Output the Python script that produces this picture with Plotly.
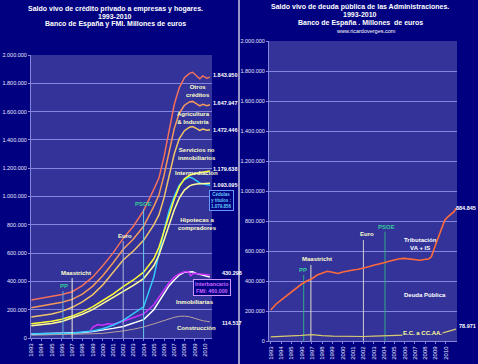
import plotly.graph_objects as go

W, H = 478, 364
NAVY = "#000080"
PLOT = "#333399"
GRID = "#8585DD"
FONT = "Liberation Sans, Arial, sans-serif"

# ---------------- shared axis labels ----------------
years = list(range(1993, 2011))
year_labels = [str(y) for y in years]
ytick_vals = [0, 200000, 400000, 600000, 800000, 1000000, 1200000, 1400000, 1600000, 1800000, 2000000]
ytick_text = ["0", "200.000", "400.000", "600.000", "800.000", "1.000.000", "1.200.000",
              "1.400.000", "1.600.000", "1.800.000", "2.000.000"]

# ---------------- left panel: private credit (millones de euros) ----------------
xl = [1993, 1994, 1995, 1996, 1997, 1998, 1999, 2000, 2001, 2002, 2003, 2004, 2005, 2005.5,
      2006, 2006.5, 2007, 2007.5, 2008, 2008.5, 2008.8, 2009.2, 2009.5, 2009.8, 2010.2, 2010.5]
total_credito = [268000, 280000, 292000, 308000, 327000, 370000, 430000, 510000, 600000, 704000,
                 790000, 900000, 1050000, 1130000, 1280000, 1470000, 1650000, 1770000, 1840000,
                 1870000, 1878000, 1852000, 1832000, 1852000, 1836000, 1843950]
sin_otros = [214000, 225000, 237000, 252000, 273000, 310000, 365000, 440000, 530000, 627000,
             700000, 790000, 930000, 1010000, 1150000, 1320000, 1480000, 1590000, 1645000,
             1668000, 1672000, 1655000, 1640000, 1652000, 1642000, 1647947]
sin_agri = [148000, 158000, 170000, 188000, 217000, 255000, 305000, 375000, 460000, 551000,
            615000, 690000, 800000, 870000, 990000, 1150000, 1300000, 1410000, 1465000,
            1490000, 1494000, 1480000, 1467000, 1476000, 1468000, 1472446]
intermediacion = [100000, 108000, 118000, 133000, 155000, 185000, 220000, 265000, 310000, 363000,
                  410000, 465000, 560000, 640000, 750000, 870000, 980000, 1070000, 1125000,
                  1150000, 1158000, 1165000, 1168000, 1172000, 1176000, 1179638]
hipotecas = [87000, 94000, 103000, 117000, 140000, 168000, 200000, 242000, 283000, 330000,
             372000, 420000, 510000, 585000, 690000, 800000, 905000, 990000, 1045000,
             1075000, 1083000, 1088000, 1090000, 1092000, 1092000, 1093095]
cedulas = [30000, 30000, 31000, 33000, 36000, 41000, 50000, 65000, 90000, 125000,
           170000, 220000, 430000, 600000, 760000, 900000, 1000000, 1080000, 1120000,
           1138000, 1130000, 1110000, 1095000, 1090000, 1085000, 1079856]
inmobiliarias = [28000, 29000, 30000, 31000, 33000, 38000, 45000, 55000, 68000, 82000,
                 105000, 130000, 200000, 260000, 320000, 370000, 410000, 445000, 465000,
                 470000, 468000, 455000, 448000, 440000, 436000, 430298]
construccion = [20000, 21000, 22000, 23000, 25000, 27000, 30000, 33000, 40000, 50000,
                62000, 78000, 100000, 112000, 125000, 137000, 146000, 153000, 155000,
                150000, 145000, 135000, 128000, 122000, 118000, 114517]
xm = [1998.7, 1999, 1999.5, 2000, 2000.5, 2001, 2002, 2003, 2004, 2005, 2005.5, 2006, 2006.5,
      2007, 2007.5, 2008, 2008.4, 2008.6, 2008.9, 2009.2, 2009.5, 2010, 2010.5]
interbancario = [40000, 75000, 95000, 90000, 100000, 98000, 118000, 145000, 170000, 235000,
                 290000, 340000, 390000, 430000, 455000, 468000, 470000, 440000, 458000,
                 456000, 452000, 448000, 445000]

left_series = [
    (construccion, xl, "#B8A0A0", 1.0),
    (inmobiliarias, xl, "#FFFFFF", 1.5),
    (interbancario, xm, "#CC33FF", 1.5),
    (cedulas, xl, "#33CCFF", 1.5),
    (hipotecas, xl, "#FFFF99", 1.5),
    (intermediacion, xl, "#FFFF33", 1.5),
    (sin_agri, xl, "#F2C46A", 1.5),
    (sin_otros, xl, "#F59A5A", 1.5),
    (total_credito, xl, "#F2705C", 1.5),
]

# events
event_names = ["PP", "Maastricht", "Euro", "PSOE"]
event_years_l = [1996.1, 1997.0, 2002.0, 2004.0]
event_top_l = [332000, 424000, 686000, 912000]
event_years_r = [1996.2, 1996.9, 2002.0, 2004.1]
event_top_r = [440000, 507000, 673000, 729000]

# ---------------- right panel: public debt ----------------
xr = [1993, 1993.5, 1994, 1994.5, 1995, 1995.5, 1996, 1996.5, 1997, 1997.5, 1998, 1998.5, 1999,
      1999.5, 2000, 2000.5, 2001, 2001.5, 2002, 2002.5, 2003, 2003.5, 2004, 2004.5, 2005, 2005.5,
      2006, 2006.5, 2007, 2007.5, 2008, 2008.3, 2008.6, 2008.8, 2009, 2009.3, 2009.6, 2009.9,
      2010.2, 2010.5, 2010.8, 2011.0]
deuda_publica = [207000, 245000, 273000, 300000, 322000, 352000, 380000, 400000, 415000, 440000,
                 455000, 465000, 458000, 450000, 460000, 468000, 473000, 478000, 485000, 495000,
                 505000, 512000, 522000, 532000, 542000, 548000, 551000, 546000, 540000, 538000,
                 545000, 545000, 562000, 595000, 640000, 695000, 750000, 805000, 828000, 842000,
                 862000, 884845]
xe = [1993, 1994, 1995, 1996, 1997, 1997.5, 1998, 1999, 2000, 2001, 2002, 2003, 2004, 2005,
      2006, 2007, 2008, 2009, 2009.8, 2010.4, 2011.0]
ec_ccaa = [28000, 30000, 33000, 38000, 43000, 42000, 36000, 33000, 31000, 30000, 30000, 32000,
           34000, 35000, 36000, 37000, 40000, 46000, 56000, 70000, 78971]


def fmt(v):
    return f"{v:,.0f}".replace(",", ".")


fig = go.Figure()

for vals, xs, col, lw in left_series:
    fig.add_trace(go.Scatter(x=xs, y=vals, mode="lines", line=dict(color=col, width=lw),
                             xaxis="x", yaxis="y", hoverinfo="skip"))

ev_col_l = ["#66AADD", "#EEEEDD", "#AAB8DD", "#66CCEE"]
ev_col_r = ["#33AA88", "#DDDDCC", "#CCCCCC", "#33AA88"]
for i in range(4):
    fig.add_trace(go.Scatter(x=[event_years_l[i]] * 2, y=[0, event_top_l[i]], mode="lines",
                             line=dict(color=ev_col_l[i], width=1), xaxis="x", yaxis="y",
                             hoverinfo="skip"))
    fig.add_trace(go.Scatter(x=[event_years_r[i]] * 2, y=[0, event_top_r[i]], mode="lines",
                             line=dict(color=ev_col_r[i], width=1), xaxis="x2", yaxis="y2",
                             hoverinfo="skip"))

fig.add_trace(go.Scatter(x=xe, y=ec_ccaa, mode="lines", line=dict(color="#D8C870", width=1.2),
                         xaxis="x2", yaxis="y2", hoverinfo="skip"))
fig.add_trace(go.Scatter(x=xr, y=deuda_publica, mode="lines", line=dict(color="#FF6A3A", width=1.6),
                         xaxis="x2", yaxis="y2", hoverinfo="skip"))


def P(x):
    return x / W


def Q(y):
    return 1 - y / H


anns = []


def ann(x, y, text, color, size=6, bold=True, xanchor="center", yanchor="middle", **kw):
    anns.append(dict(xref="paper", yref="paper", x=P(x), y=Q(y),
                     text=f"<b>{text}</b>" if bold else text, showarrow=False,
                     font=dict(family=FONT, size=size, color=color),
                     xanchor=xanchor, yanchor=yanchor, **kw))


# titles
ann(115, 9, "Saldo vivo de crédito privado a empresas y hogares.", "#FFFFFF", 7)
ann(115, 16.7, "1993-2010", "#FFFFFF", 7)
ann(115, 24.3, "Banco de España y FMI. Millones de euros", "#FFFFFF", 7)
ann(360, 7.3, "Saldo vivo de deuda pública de las Administraciones.", "#FFFFFF", 7)
ann(360, 15, "1993-2010", "#FFFFFF", 7)
ann(360, 22.7, "Banco de España . Millones  de euros", "#FFFFFF", 7)
ann(366, 30.7, "www.ricardoverges.com", "#FFFFFF", 5.5, bold=False)

# event labels
ev_txt_col = ["#33CC99", "#FFFFCC", "#FFFFCC", "#33CC99"]
ev_lab_l = [(64, 286), (76, 273), (125, 236), (143, 204)]
ev_lab_r = [(303, 270), (317, 259), (367, 234), (386, 227)]
for i in range(4):
    ann(*ev_lab_l[i], event_names[i], ev_txt_col[i], 6)
    ann(*ev_lab_r[i], event_names[i], ev_txt_col[i], 6)

# left value labels (text from data)
lab_series = [(total_credito, 2), (sin_otros, 2), (sin_agri, 0), (intermediacion, 2),
              (hipotecas, -2), (inmobiliarias, 4), (construccion, -1)]
lab_x = [211, 211, 211, 211, 211, 220, 220]
for (vals, ys), lx in zip(lab_series, lab_x):
    anns.append(dict(xref="paper", yref="y", x=P(lx), y=vals[-1], yshift=ys,
                     text=f"<b>{fmt(vals[-1])}</b>", showarrow=False, xanchor="left",
                     yanchor="middle", font=dict(family=FONT, size=5.5, color="#FFFFFF")))

LY = "#FFFFCC"
ann(198, 91, "Otros<br>créditos", LY, 6)
ann(193, 118.5, "Agricultura<br>& Industria", LY, 6)
ann(197, 153.5, "Servicios no<br>inmobiliarios", LY, 6)
ann(196, 173, "Intermediación", LY, 6)
ann(197, 223.5, "Hipotecas a<br>compradores", LY, 6)
ann(195, 302, "Inmobiliarias", LY, 6)
ann(196, 328, "Construcción", LY, 6)
ann(221, 200.5, f"Cédulas<br>y títulos :<br>{fmt(cedulas[-1])}", "#66CCFF", 4.5,
    bgcolor=NAVY, bordercolor="#6699FF", borderwidth=1, borderpad=1)
ann(211.6, 287.7, "Interbancario<br>FMI: 460.000", "#CC66FF", 5.3,
    bgcolor=NAVY, bordercolor="#CC99FF", borderwidth=1, borderpad=1)

# right labels
anns.append(dict(xref="paper", yref="y2", x=P(477.5), y=deuda_publica[-1],
                 text=f"<b>{fmt(deuda_publica[-1])}</b>", showarrow=False, xanchor="right",
                 yanchor="middle", font=dict(family=FONT, size=5.5, color="#FFFFFF")))
anns.append(dict(xref="paper", yref="y2", x=P(477.5), y=ec_ccaa[-1], yshift=3,
                 text=f"<b>{fmt(ec_ccaa[-1])}</b>", showarrow=False, xanchor="right",
                 yanchor="middle", font=dict(family=FONT, size=5.5, color="#FFFFFF")))
ann(420, 244.5, "Tributación<br>VA + IS", "#FFFFFF", 6)
ann(425, 295, "Deuda Pública", "#FFFFFF", 6)
ann(422, 333, "E.C. a CC.AA.", "#FFFF99", 6, bgcolor=PLOT, borderpad=0)

axis_common = dict(showline=True, linecolor=GRID, linewidth=1, ticks="outside", ticklen=2,
                   tickcolor=GRID, zeroline=False, automargin=False)
xcommon = dict(tickvals=years, ticktext=year_labels, tickangle=-90, showgrid=False,
               tickfont=dict(family=FONT, size=6, color="#E8E8FF"), **axis_common)
ycommon = dict(range=[0, 2000000], tickvals=ytick_vals, ticktext=ytick_text, showgrid=True,
               gridcolor=GRID, gridwidth=1,
               tickfont=dict(family=FONT, size=5.5, color="#E8E8FF"), **axis_common)

fig.update_layout(
    width=W, height=H, margin=dict(l=0, r=0, t=0, b=0, autoexpand=False),
    paper_bgcolor=NAVY, plot_bgcolor=PLOT, showlegend=False,
    xaxis=dict(domain=[P(31), P(212)], range=[1992.97, 2010.7], anchor="y", **xcommon),
    yaxis=dict(domain=[Q(338), Q(55)], anchor="x", **ycommon),
    xaxis2=dict(domain=[P(269), P(457)], range=[1992.83, 2011.09], anchor="y2", **xcommon),
    yaxis2=dict(domain=[Q(341), Q(41)], anchor="x2", **ycommon),
    annotations=anns,
    shapes=[dict(type="line", xref="paper", yref="paper", x0=P(239), x1=P(239), y0=0, y1=1,
                 line=dict(color="#C8C8E0", width=1.5))],
)

fig.write_html("out.html", config={"displayModeBar": False},
               post_script="document.body.style.margin='0';document.body.style.overflow='hidden';")
